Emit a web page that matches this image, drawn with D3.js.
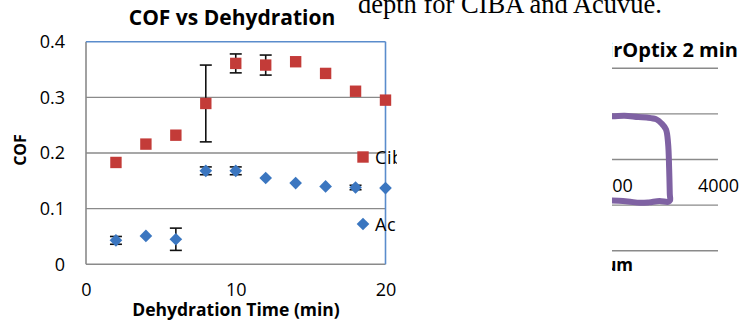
<!DOCTYPE html>
<html>
<head>
<meta charset="utf-8">
<script src="https://cdn.jsdelivr.net/npm/d3@7"></script>
<style>
  html, body { margin: 0; padding: 0; background: #fff; }
  svg { display: block; }
  text { font-family: "Open Sans", sans-serif; fill: #000; }
</style>
</head>
<body>
<div id="chart"></div>
<script>
// COF vs dehydration time, scanned page fragment with a second clipped chart
const minutes = [2, 4, 6, 8, 10, 12, 14, 16, 18, 20];
const cibaCOF = [0.183, 0.216, 0.232, 0.289, 0.361, 0.358, 0.364, 0.343, 0.311, 0.295];
const cibaErr = [0, 0, 0, 0.069, 0.017, 0.018, 0, 0, 0, 0];
const acuvueCOF = [0.043, 0.051, 0.045, 0.168, 0.168, 0.155, 0.146, 0.140, 0.138, 0.137];
const acuvueErr = [0.007, 0, 0.02, 0.007, 0.007, 0, 0, 0, 0.004, 0];
const seriesNames = ["Ciba", "Acuvue"];
const xTicks = [0, 10, 20];
const yTicks = [0, 0.1, 0.2, 0.3, 0.4];

// second chart (only its right part survives the crop)
const tracePos = [2900, 3002, 3120, 3250, 3328, 3420, 3469, 3510, 3530, 3540, 3546, 3548, 3530, 3450, 3350, 3265, 3150, 3002, 2900];
const traceForce = [0.097, 0.095, 0.096, 0.093, 0.092, 0.088, 0.079, 0.066, 0.035, -0.02, -0.075, -0.090, -0.093, -0.091, -0.094, -0.095, -0.092, -0.090, -0.091];
const trace2Ticks = [3000, 4000];
const trace2Grid = [-0.2, -0.1, 0, 0.1, 0.2];

const W = 753, H = 320;
const svg = d3.select("#chart").append("svg")
    .attr("width", W)
    .attr("height", H);

const defs = svg.append("defs");
defs.append("clipPath").attr("id", "clipLeft")
    .append("rect").attr("x", 0).attr("y", 0).attr("width", 397).attr("height", H);
defs.append("clipPath").attr("id", "clipRight")
    .append("rect").attr("x", 612).attr("y", 0).attr("width", W - 612).attr("height", H);
defs.append("filter").attr("id", "soft")
    .append("feGaussianBlur").attr("stdDeviation", 0.6);

// caption text from the page above
svg.append("text")
    .attr("x", 358)
    .attr("y", 13)
    .style("font-family", "'Liberation Serif', serif")
    .style("font-size", "26.5px")
    .text("depth for CIBA and Acuvue.");

// ---------- chart 1 ----------
const g1 = svg.append("g").attr("clip-path", "url(#clipLeft)");

const x = d3.scaleLinear().domain([0, 20]).range([86, 385.5]);
const y = d3.scaleLinear().domain([0, 0.4]).range([264.3, 41.7]);

// gridlines
g1.append("g")
    .selectAll("line")
    .data(yTicks.filter(d => d > 0 && d < 0.4))
    .join("line")
    .attr("x1", x(0)).attr("x2", x(20))
    .attr("y1", d => y(d)).attr("y2", d => y(d))
    .attr("stroke", "#8a8a8a")
    .attr("stroke-width", 1.4);

// plot border: grey axes, blue top/right
g1.append("line").attr("x1", x(0)).attr("x2", x(0)).attr("y1", y(0)).attr("y2", y(0.4))
    .attr("stroke", "#8a8a8a").attr("stroke-width", 1.6);
g1.append("line").attr("x1", x(0)).attr("x2", x(20)).attr("y1", y(0)).attr("y2", y(0))
    .attr("stroke", "#8a8a8a").attr("stroke-width", 1.6);
g1.append("line").attr("x1", x(0)).attr("x2", x(20)).attr("y1", y(0.4)).attr("y2", y(0.4))
    .attr("stroke", "#5a8ccc").attr("stroke-width", 1.6);
g1.append("line").attr("x1", x(20)).attr("x2", x(20)).attr("y1", y(0.4)).attr("y2", y(0))
    .attr("stroke", "#5a8ccc").attr("stroke-width", 1.6);

// axes labels
const yAxis = g1.append("g")
    .attr("transform", `translate(${x(0)},0)`)
    .call(d3.axisLeft(y).tickValues(yTicks).tickSize(0).tickPadding(21)
        .tickFormat(d => d === 0 ? "0" : d3.format(".1f")(d)));
yAxis.select(".domain").remove();
yAxis.selectAll("text").style("font-size", "18px").style("font-family", "'Open Sans', sans-serif").attr("fill", "#000");

const xAxis = g1.append("g")
    .attr("transform", `translate(0,${y(0)})`)
    .call(d3.axisBottom(x).tickValues(xTicks).tickSize(0).tickPadding(19));
xAxis.select(".domain").remove();
xAxis.selectAll("text").style("font-size", "18px").style("font-family", "'Open Sans', sans-serif").attr("fill", "#000");

// titles
g1.append("text")
    .attr("x", 232).attr("y", 25)
    .attr("text-anchor", "middle")
    .style("font-size", "21px").style("font-weight", "bold")
    .text("COF vs Dehydration");
g1.append("text")
    .attr("x", 236).attr("y", 316)
    .attr("text-anchor", "middle")
    .style("font-size", "17.5px").style("font-weight", "bold")
    .text("Dehydration Time (min)");
g1.append("text")
    .attr("transform", "translate(26,150) rotate(-90)")
    .attr("text-anchor", "middle")
    .style("font-size", "16px").style("font-weight", "bold")
    .text("COF");

// error bars
function errorBars(vals, errs) {
    const rows = minutes.map((m, i) => ({ m, v: vals[i], e: errs[i] })).filter(d => d.e > 0);
    const eg = g1.append("g").attr("stroke", "#111").attr("stroke-width", 1.6);
    eg.selectAll(".v").data(rows).join("line")
        .attr("x1", d => x(d.m)).attr("x2", d => x(d.m))
        .attr("y1", d => y(d.v - d.e)).attr("y2", d => y(d.v + d.e));
    eg.selectAll(".t").data(rows).join("line")
        .attr("x1", d => x(d.m) - 6).attr("x2", d => x(d.m) + 6)
        .attr("y1", d => y(d.v + d.e)).attr("y2", d => y(d.v + d.e));
    eg.selectAll(".b").data(rows).join("line")
        .attr("x1", d => x(d.m) - 6).attr("x2", d => x(d.m) + 6)
        .attr("y1", d => y(d.v - d.e)).attr("y2", d => y(d.v - d.e));
}
errorBars(cibaCOF, cibaErr);
errorBars(acuvueCOF, acuvueErr);

const square = d3.symbol().type(d3.symbolSquare).size(130);
const diamond = d3.symbol().type(d3.symbolSquare).size(80); // rotated 45deg below

g1.append("g").attr("filter", "url(#soft)")
    .selectAll("path")
    .data(minutes.map((m, i) => [m, cibaCOF[i]]))
    .join("path")
    .attr("d", square)
    .attr("transform", d => `translate(${x(d[0])},${y(d[1])})`)
    .attr("fill", "#c33b38");

g1.append("g").attr("filter", "url(#soft)")
    .selectAll("path")
    .data(minutes.map((m, i) => [m, acuvueCOF[i]]))
    .join("path")
    .attr("d", diamond)
    .attr("transform", d => `translate(${x(d[0])},${y(d[1])}) rotate(45)`)
    .attr("fill", "#3a76c0");

const legend = g1.append("g");
const legendY = [157, 224];
legend.selectAll("path")
    .data(seriesNames)
    .join("path")
    .attr("d", (d, i) => (i === 0 ? square : diamond)())
    .attr("transform", (d, i) => `translate(363,${legendY[i]}) rotate(${i === 0 ? 0 : 45})`)
    .attr("fill", (d, i) => i === 0 ? "#c33b38" : "#3a76c0");
legend.selectAll("text")
    .data(seriesNames)
    .join("text")
    .attr("x", 375)
    .attr("y", (d, i) => legendY[i] + 6.5)
    .style("font-size", "18px")
    .style("letter-spacing", "0.6px")
    .text(d => d);

// ---------- chart 2 (cropped) ----------
const g2 = svg.append("g").attr("clip-path", "url(#clipRight)");
const x2 = d3.scaleLinear().domain([3000, 4000]).range([611.8, 718]);
const y2 = d3.scaleLinear().domain([-0.2, 0.2]).range([250.7, 68.3]);

g2.append("g")
    .selectAll("line")
    .data(trace2Grid)
    .join("line")
    .attr("x1", x2(2000)).attr("x2", x2(4000))
    .attr("y1", d => y2(d)).attr("y2", d => y2(d))
    .attr("stroke", "#8a8a8a")
    .attr("stroke-width", 1.4);

const xAxis2 = g2.append("g")
    .attr("transform", `translate(0,${y2(0)})`)
    .call(d3.axisBottom(x2).tickValues(trace2Ticks).tickSize(0).tickPadding(20).tickFormat(d3.format("d")));
xAxis2.select(".domain").remove();
xAxis2.selectAll("text").style("font-size", "18px").style("font-family", "'Open Sans', sans-serif").attr("fill", "#000");

g2.append("path")
    .datum(tracePos.map((p, i) => [p, traceForce[i]]))
    .attr("fill", "none")
    .attr("stroke", "#7f62a3")
    .attr("stroke-width", 6)
    .attr("stroke-linejoin", "round")
    .attr("d", d3.line().x(d => x2(d[0])).y(d => y2(d[1])).curve(d3.curveCatmullRom.alpha(0.5)));

g2.append("text")
    .attr("x", 738).attr("y", 57)
    .attr("text-anchor", "end")
    .style("font-size", "20px").style("font-weight", "bold")
    .text("AirOptix 2 min");
g2.append("text")
    .attr("x", 633).attr("y", 271)
    .attr("text-anchor", "end")
    .style("font-size", "17px").style("font-weight", "bold")
    .text("Displacement, um");
</script>
</body>
</html>
